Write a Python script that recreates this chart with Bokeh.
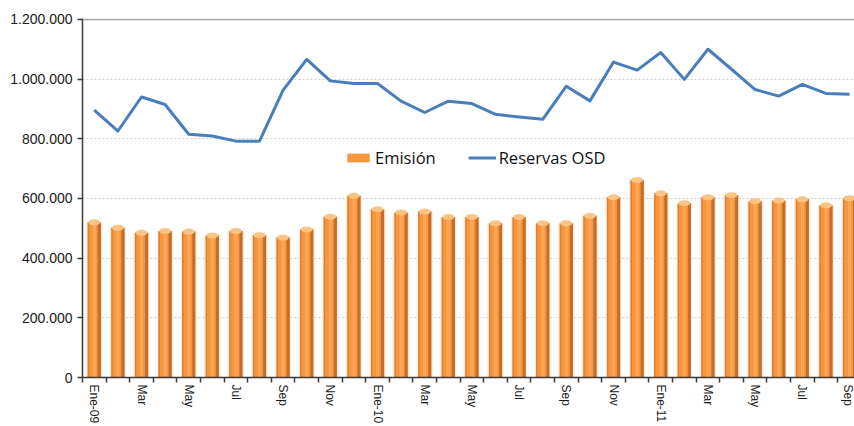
from bokeh.plotting import figure
from bokeh.models import (ColumnDataSource, FixedTicker, Legend, LegendItem, Span, Range1d)
from bokeh.transform import dodge
from bokeh.embed import file_html
from bokeh.resources import INLINE

# ---- data ----
months = ["Ene-09", "Feb", "Mar", "Abr", "May", "Jun", "Jul", "Ago", "Sep", "Oct", "Nov", "Dic",
          "Ene-10", "Feb", "Mar", "Abr", "May", "Jun", "Jul", "Ago", "Sep", "Oct", "Nov", "Dic",
          "Ene-11", "Feb", "Mar", "Abr", "May", "Jun", "Jul", "Ago", "Sep"]
emision = [520000, 502000, 485000, 491000, 489000, 476000, 491000, 477000, 469000, 496000, 539000, 609000,
           564000, 553000, 556000, 538000, 538000, 517000, 538000, 517000, 517000, 542000, 604000, 662000,
           617000, 584000, 604000, 611000, 591000, 593000, 597000, 577000, 601000]
reservas = [896000, 826000, 940000, 915000, 815000, 809000, 792000, 792000, 963000, 1066000, 994000, 985000,
            985000, 926000, 888000, 926000, 918000, 882000, 873000, 865000, 976000, 927000, 1057000, 1030000,
            1089000, 999000, 1100000, 1033000, 965000, 943000, 982000, 952000, 949000]
x_tick_labels = ["Ene-09", "Mar", "May", "Jul", "Sep", "Nov", "Ene-10", "Mar", "May", "Jul", "Sep", "Nov",
                 "Ene-11", "Mar", "May", "Jul", "Sep"]
y_ticks = [0, 200000, 400000, 600000, 800000, 1000000, 1200000]
y_tick_labels = ["0", "200.000", "400.000", "600.000", "800.000", "1.000.000", "1.200.000"]

xs = list(range(len(months)))
src = ColumnDataSource(dict(x=xs, emision=emision, reservas=reservas))

p = figure(width=854, height=426, output_backend="svg", toolbar_location=None,
           x_range=Range1d(-0.5, 32.21), y_range=Range1d(0, 1203000))
p.min_border_left = 82
p.min_border_right = 0
p.min_border_top = 18
p.min_border_bottom = 48
p.outline_line_color = None
p.background_fill_color = "white"
p.border_fill_color = "white"

# grid
p.xgrid.visible = False
p.ygrid.ticker = FixedTicker(ticks=y_ticks)
p.ygrid.grid_line_color = "#cfcfcf"
p.ygrid.grid_line_dash = "2 2"
p.ygrid.grid_line_width = 1

top = Span(location=1200000, dimension="width", line_color="#a0a0a0", line_width=1.5)
p.add_layout(top)

# bars
p.vbar(x="x", top="emision", width=0.68, source=src, fill_color="#f9d2ae", fill_alpha=0.45, line_color=None)
bars = p.vbar(x="x", top="emision", width=0.56, source=src, fill_color="#f7963f", line_color=None)
p.vbar(x="x", top="emision", width=0.14, source=src, fill_color="#ffac5e", fill_alpha=0.7, line_color=None)
p.vbar(x=dodge("x", 0.215, range=p.x_range), top="emision", width=0.13, source=src,
       fill_color="#b9692b", fill_alpha=0.85, line_color=None)
p.vbar(x=dodge("x", -0.25, range=p.x_range), top="emision", width=0.06, source=src,
       fill_color="#d37a33", fill_alpha=0.8, line_color=None)
p.ellipse(x="x", y="emision", width=0.5, height=6, height_units="screen", source=src,
          fill_color="#fcc383", line_color=None)

# line
line = p.line(x="x", y="reservas", source=src, line_color="#4a7ebb", line_width=3, line_join="round")

# axes
xa = p.xaxis[0]
xa.ticker = FixedTicker(ticks=list(range(0, 33, 2)),
                        minor_ticks=[i + 0.5 for i in range(-1, 32)])
xa.major_label_overrides = {t: lab for t, lab in zip(range(0, 33, 2), x_tick_labels)}
xa.major_label_orientation = "vertical"
xa.major_tick_out = 0
xa.major_tick_in = 0
xa.minor_tick_out = 5
xa.minor_tick_in = 0
xa.minor_tick_line_color = "#3a3a3a"
xa.minor_tick_line_width = 1.5
xa.axis_line_color = "#3a3a3a"
xa.axis_line_width = 1.5
xa.major_label_standoff = 2
xa.major_label_text_font = "Liberation Sans"
xa.major_label_text_font_size = "12px"
xa.major_label_text_color = "#1a1a1a"

ya = p.yaxis[0]
ya.ticker = FixedTicker(ticks=y_ticks)
ya.major_label_overrides = {t: lab for t, lab in zip(y_ticks, y_tick_labels)}
ya.minor_tick_line_color = None
ya.major_tick_out = 5
ya.major_tick_in = 0
ya.major_tick_line_color = "#3a3a3a"
ya.major_tick_line_width = 1.5
ya.axis_line_color = "#3a3a3a"
ya.axis_line_width = 1.5
ya.major_label_standoff = 5
ya.major_label_text_font = "Liberation Sans"
ya.major_label_text_font_size = "14px"
ya.major_label_text_color = "#1a1a1a"

legend = Legend(items=[LegendItem(label="Emisión", renderers=[bars]),
                       LegendItem(label="Reservas OSD", renderers=[line])],
                orientation="horizontal", location=(262, 208),
                padding=0, margin=0, spacing=32, label_standoff=3,
                glyph_width=28, glyph_height=11,
                border_line_color=None, background_fill_alpha=0,
                label_text_font="Open Sans", label_text_font_size="16.5px",
                label_text_color="#111111")
p.add_layout(legend)

open("out.html", "w").write(file_html(p, INLINE))
